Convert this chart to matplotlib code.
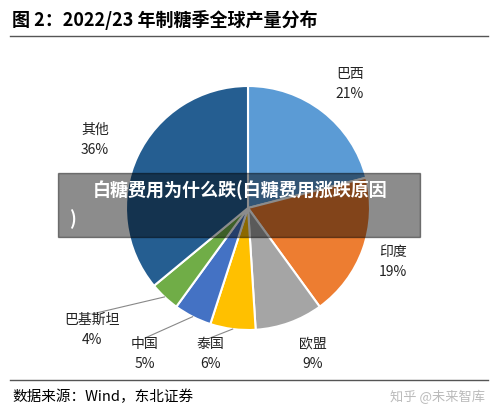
import numpy as np
import matplotlib.pyplot as plt
import matplotlib.patches as mpatches

plt.rcParams['font.family'] = ['Noto Sans CJK SC', 'DejaVu Sans']

labels = ["巴西", "印度", "欧盟", "泰国", "中国", "巴基斯坦", "其他"]
values = [21, 19, 9, 6, 5, 4, 36]
colors = ["#5B9BD5", "#ED7D31", "#A5A5A5", "#FFC000", "#4472C4", "#70AD47", "#255E91"]
# label positions in figure pixel coords (x, y from top)
label_pos = [(350, 84), (393, 262), (313, 354), (210, 354), (145, 354), (92, 330), (95, 140)]

fig = plt.figure(figsize=(4.98, 4.12), dpi=100)
W, H = 498, 412
cx, cy, r = 248, 208, 122

ax = fig.add_axes([(cx - r) / W, 1 - (cy + r) / H, 2 * r / W, 2 * r / H])
ax.pie(values, colors=colors, startangle=90, counterclock=False, radius=1,
       wedgeprops=dict(edgecolor="white", linewidth=1.5))
ax.set_xlim(-1, 1)
ax.set_ylim(-1, 1)
ax.set_aspect("equal")
ax.axis("off")

# leader lines for the small slices
cum = np.cumsum([0] + values)
for i in [3, 4, 5]:
    ang = np.deg2rad(90 - 3.6 * (cum[i] + values[i] / 2))
    x0, y0 = np.cos(ang), np.sin(ang)
    lx, ly = label_pos[i]
    tx = (lx - cx) / r
    ty = (cy - (ly - 16)) / r
    ax.plot([x0, tx], [y0, ty], color="#888888", lw=0.8, clip_on=False)

for lab, v, (x, y) in zip(labels, values, label_pos):
    fig.text(x / W, 1 - y / H, f"{lab}\n{v}%", ha="center", va="center",
             fontsize=10, linespacing=1.6, color="#222222")

fig.text(12 / W, 1 - 20 / H, "图 2：2022/23 年制糖季全球产量分布", fontsize=13,
         fontweight="bold", va="center", ha="left")
fig.add_artist(plt.Line2D([10 / W, 488 / W], [1 - 36 / H] * 2, color="#555555", lw=1))
fig.add_artist(plt.Line2D([10 / W, 488 / W], [1 - 380 / H] * 2, color="#555555", lw=1))
fig.text(12 / W, 1 - 397 / H, "数据来源：Wind，东北证券", fontsize=10.5, va="center", ha="left")
fig.text(485 / W, 1 - 397 / H, "知乎 @未来智库", fontsize=9.5, va="center", ha="right",
         color="#bbbbbb")

# overlay banner
fig.add_artist(mpatches.Rectangle((58 / W, 1 - 237 / H), 362 / W, 64 / H,
                                  transform=fig.transFigure, color="black", alpha=0.45))
fig.text(240 / W, 1 - 190 / H, "白糖费用为什么跌(白糖费用涨跌原因", fontsize=13,
         fontweight="bold", color="white", ha="center", va="center")
fig.text(72 / W, 1 - 219 / H, ")", fontsize=13, fontweight="bold", color="white",
         ha="center", va="center")

fig.savefig("out.png", dpi=100)
